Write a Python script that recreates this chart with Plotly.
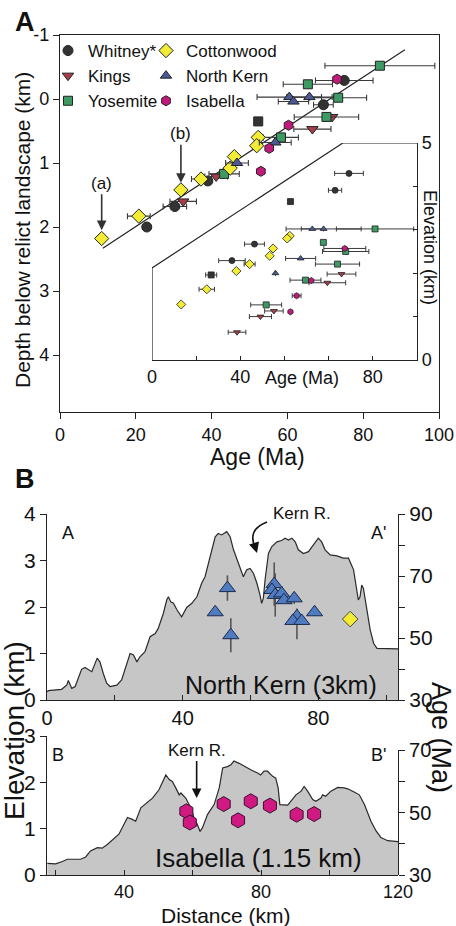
import plotly.graph_objects as go

W, H = 456, 926
FONT = "Liberation Sans, Arial, sans-serif"

def px(x):
    return x / W

def py(y):
    return 1 - y / H

# ---------------- Panel A (main): age (Ma), depth below relict landscape (km), age error (Ma)
whitney_age = [75.0, 69.5, 39.0, 30.3, 22.9]
whitney_depth = [-0.29, 0.09, 1.28, 1.68, 2.00]
whitney_err = [7.6, 2.6, 0, 3.1, 0]
whitney_sq_age = [52.3]
whitney_sq_depth = [0.35]
kings_age = [71.8, 66.6, 41.2, 32.5]
kings_depth = [0.28, 0.47, 1.21, 1.60]
kings_err = [0, 4.9, 3.0, 3.5]
yos_age = [84.4, 65.4, 73.4, 70.3, 58.3, 43.3]
yos_depth = [-0.52, -0.23, -0.02, 0.28, 0.60, 1.17]
yos_err = [14.5, 6.5, 7.5, 8.5, 4.6, 4.0]
cot_age = [52.3, 51.9, 46.0, 44.9, 37.2, 31.9, 20.8, 11.0]
cot_depth = [0.60, 0.73, 0.90, 1.08, 1.25, 1.42, 1.83, 2.18]
cot_err = [0, 0, 0, 0, 2.5, 0, 3.0, 0]
nk_age = [60.5, 65.8, 61.6, 56.8, 46.7]
nk_depth = [-0.03, -0.03, 0.04, 0.68, 1.00]
nk_err = [8.5, 6.0, 4.0, 4.2, 3.0]
isa_age = [73.1, 60.3, 55.2, 53.0]
isa_depth = [-0.31, 0.41, 0.77, 1.13]
reg_age = [11.3, 91.0]
reg_depth = [2.33, -0.77]

# ---------------- Panel A inset: age (Ma), elevation (km), age error (Ma)
in_whitney_age = [89.2, 82.9, 46.4, 36.2]
in_whitney_elev = [4.30, 3.91, 2.67, 2.29]
in_whitney_err = [6.5, 3.0, 4.5, 6.0]
in_whitney_sq_age = [62.7, 26.8]
in_whitney_sq_elev = [3.65, 1.96]
in_whitney_sq_err = [0, 2.5]
in_kings_age = [85.8, 79.4, 55.2, 49.1, 38.5]
in_kings_elev = [1.98, 1.78, 1.13, 1.00, 0.64]
in_kings_err = [6.5, 8.3, 4.2, 5.0, 4.0]
in_yos_age = [101.0, 77.6, 87.7, 84.0, 69.5, 51.7]
in_yos_elev = [3.02, 2.71, 2.50, 2.21, 1.84, 1.27]
in_yos_err = [17.5, 0, 10.5, 10.0, 7.0, 7.0]
in_cot_age = [62.4, 61.2, 54.8, 53.3, 44.2, 38.2, 24.8, 13.2]
in_cot_elev = [2.86, 2.80, 2.57, 2.40, 2.21, 2.05, 1.63, 1.28]
in_cot_err = [0, 0, 0, 0, 2.5, 0, 3.5, 0]
in_nk_age = [72.6, 77.7, 67.3, 55.9]
in_nk_elev = [3.02, 3.02, 2.34, 2.00]
in_nk_err = [5.0, 17.0, 6.8, 0]
in_isa_age = [87.3, 72.1, 65.5, 62.7]
in_isa_elev = [2.57, 1.83, 1.48, 1.11]
in_isa_err = [9.5, 0, 2.0, 0]
inset_tickvals = [0, 20, 40, 60, 80, 100, 120]
inset_ticktext = ["0", "", "40", "", "", "80", ""]

# ---------------- Panel B top: North Kern profile (distance km, elevation km) and samples (age Ma)
nk_prof_dist = [0.0, 0.4, 4.3, 5.8, 6.3, 7.3, 8.3, 10.2, 11.2, 13.2, 14.8, 15.6, 16.6, 17.6, 18.6,
                20.6, 22.0, 23.5, 24.5, 25.5, 26.5, 27.4, 28.9, 30.4, 31.9, 32.8, 34.3, 35.3, 35.8,
                36.5, 37.3, 38.3, 39.7, 41.2, 42.7, 44.2, 45.6, 46.6, 47.6, 48.6, 49.6, 50.5, 51.5,
                53.0, 54.0, 55.0, 56.4, 57.9, 58.9, 59.9, 60.9, 61.9, 62.8, 63.3, 63.8, 64.3, 65.3,
                66.3, 67.8, 69.2, 70.2, 71.2, 72.2, 73.2, 74.1, 75.6, 77.1, 78.6, 80.0, 81.0, 82.0,
                83.5, 85.5, 87.4, 88.9, 90.4, 91.4, 91.8, 92.3, 92.8, 93.3, 94.3, 95.3, 96.3, 97.3,
                103.5]
nk_prof_elev = [0.18, 0.20, 0.23, 0.32, 0.42, 0.25, 0.29, 0.66, 0.70, 0.61, 0.90, 0.82, 0.57, 0.36,
                0.29, 0.32, 0.43, 0.79, 1.00, 0.97, 0.82, 0.93, 1.04, 1.36, 1.43, 1.54, 1.86, 2.15,
                2.22, 2.11, 2.08, 1.94, 1.79, 1.99, 2.08, 2.22, 2.51, 2.65, 2.94, 3.23, 3.51, 3.58,
                3.55, 3.62, 3.51, 3.23, 2.94, 2.65, 2.80, 2.83, 2.72, 2.51, 2.26, 2.08, 2.19, 2.58,
                3.15, 3.30, 3.40, 3.43, 3.48, 3.44, 3.48, 3.40, 3.23, 3.15, 3.19, 3.33, 3.48, 3.40,
                3.23, 3.12, 3.10, 3.05, 3.05, 2.80, 2.29, 2.15, 2.22, 2.47, 2.40, 1.94, 1.51, 1.22,
                1.11, 1.10]
nkb_dist = [49.6, 53.2, 54.2, 67.0, 66.3, 67.3, 69.2, 69.9, 72.9, 73.7, 72.5, 75.1, 78.9]
nkb_age = [58.3, 66.1, 50.9, 67.4, 65.5, 63.9, 64.4, 62.2, 62.8, 57.0, 55.5, 55.5, 58.3]
nkb_err_plus = [0, 4.1, 5.5, 7.0, 0, 7.0, 2.3, 0, 1.8, 2.5, 0, 0, 1.0]
nkb_err_minus = [0, 4.1, 5.5, 7.0, 0, 7.0, 2.3, 0, 1.8, 7.4, 0, 0, 1.0]
cotb_dist = [89.4]
cotb_age = [56.1]

# ---------------- Panel B bottom: Isabella profile and samples
isa_prof_dist = [17.6, 20.0, 22.0, 23.4, 27.3, 28.8, 30.2, 32.2, 33.6, 35.1, 38.5, 40.0, 41.0, 42.4,
                 43.4, 44.9, 46.8, 48.3, 50.2, 51.7, 52.2, 53.2, 54.1, 55.1, 56.1, 56.6, 58.0, 59.5,
                 60.4, 61.4, 62.2, 62.9, 64.4, 66.3, 67.8, 68.8, 70.2, 71.2, 72.1, 73.6, 75.1, 77.0,
                 79.0, 79.9, 80.9, 81.9, 83.4, 84.3, 85.0, 85.5, 87.8, 88.7, 90.2, 91.7, 92.6, 93.6,
                 95.1, 96.0, 97.5, 98.0, 98.9, 100.4, 102.4, 104.3, 105.3, 107.2, 108.7, 110.2,
                 112.1, 113.6, 115.0, 117.0, 120.0]
isa_prof_elev = [0.25, 0.24, 0.29, 0.34, 0.34, 0.39, 0.52, 0.59, 0.58, 0.66, 0.88, 1.09, 1.24, 1.20,
                 1.16, 1.45, 1.56, 1.66, 1.84, 2.09, 2.16, 2.06, 2.02, 1.88, 1.73, 1.77, 1.66, 1.45,
                 1.24, 1.09, 0.94, 1.02, 1.31, 1.52, 1.88, 2.31, 2.34, 2.38, 2.46, 2.41, 2.34, 2.27,
                 2.20, 2.16, 2.24, 2.24, 2.13, 2.09, 1.88, 1.52, 1.51, 1.59, 1.73, 1.81, 1.91, 1.81,
                 1.63, 1.59, 1.66, 1.73, 1.70, 1.81, 1.89, 1.88, 1.86, 1.79, 1.73, 1.52, 1.16, 0.95,
                 0.81, 0.74, 0.72]
isab_dist = [58.2, 59.2, 69.1, 73.3, 77.0, 82.6, 90.4, 95.5]
isab_age = [50.4, 46.8, 52.7, 47.5, 53.6, 52.2, 49.3, 49.5]
isab_err = [0, 1.5, 0, 0, 0, 1.5, 0, 0]

# ---------------- styles
C_WHI = "#333333"
C_KIN = "#a53d4a"
C_YOS = "#3c9a62"
C_COT = "#f3ec35"
C_NK = "#4b5a96"
C_ISA = "#c2197c"
C_NKB = "#4f7cc0"
EDGE = "#222222"
ERRC = "#3a3a3a"

fig = go.Figure()


def main_trace(x, y, err, name, color, symbol, legend, show=True, size=10):
    return go.Scatter(
        x=x, y=y, mode="markers", name=name, legend=legend, showlegend=show,
        marker=dict(color=color, symbol=symbol, size=size, line=dict(color=EDGE, width=1)),
        error_x=dict(type="data", array=err, color=ERRC, thickness=1.1, width=3),
        xaxis="x", yaxis="y")


fig.add_trace(go.Scatter(x=reg_age, y=reg_depth, mode="lines", line=dict(color="#222", width=1.2),
                         showlegend=False, xaxis="x", yaxis="y"))
fig.add_trace(main_trace(whitney_age, whitney_depth, whitney_err, "Whitney*", C_WHI, "circle", "legend"))
fig.add_trace(main_trace(kings_age, kings_depth, kings_err, "Kings", C_KIN, "triangle-down", "legend"))
fig.add_trace(main_trace(yos_age, yos_depth, yos_err, "Yosemite", C_YOS, "square", "legend", size=9))
fig.add_trace(main_trace(cot_age, cot_depth, cot_err, "Cottonwood", C_COT, "diamond", "legend2", size=11))
fig.add_trace(main_trace(nk_age, nk_depth, nk_err, "North Kern", C_NK, "triangle-up", "legend2"))
fig.add_trace(main_trace(isa_age, isa_depth, [0] * len(isa_age), "Isabella", C_ISA, "hexagon", "legend2"))
fig.add_trace(main_trace(whitney_sq_age, whitney_sq_depth, [0], "Whitney sq", C_WHI, "square", "legend",
                         show=False, size=9))


def inset_trace(x, y, err, color, symbol, size=6):
    return go.Scatter(
        x=x, y=y, mode="markers", showlegend=False,
        marker=dict(color=color, symbol=symbol, size=size, line=dict(color=EDGE, width=0.8)),
        error_x=dict(type="data", array=err, color=ERRC, thickness=1, width=2.5),
        xaxis="x2", yaxis="y2")


fig.add_trace(inset_trace(in_whitney_age, in_whitney_elev, in_whitney_err, C_WHI, "circle"))
fig.add_trace(inset_trace(in_whitney_sq_age, in_whitney_sq_elev, in_whitney_sq_err, C_WHI, "square"))
fig.add_trace(inset_trace(in_kings_age, in_kings_elev, in_kings_err, C_KIN, "triangle-down"))
fig.add_trace(inset_trace(in_yos_age, in_yos_elev, in_yos_err, C_YOS, "square"))
fig.add_trace(inset_trace(in_cot_age, in_cot_elev, in_cot_err, C_COT, "diamond", size=7))
fig.add_trace(inset_trace(in_nk_age, in_nk_elev, in_nk_err, C_NK, "triangle-up"))
fig.add_trace(inset_trace(in_isa_age, in_isa_elev, in_isa_err, C_ISA, "hexagon"))

fig.add_trace(go.Scatter(x=nk_prof_dist, y=nk_prof_elev, mode="lines", fill="tozeroy",
                         fillcolor="#c6c6c6", line=dict(color="#2a2a2a", width=1.2),
                         showlegend=False, xaxis="x3", yaxis="y3"))
fig.add_trace(go.Scatter(x=nkb_dist, y=nkb_age, mode="markers", showlegend=False,
                         marker=dict(color=C_NKB, symbol="triangle-up", size=14,
                                     line=dict(color="#1c2a4a", width=1)),
                         error_y=dict(type="data", array=nkb_err_plus, arrayminus=nkb_err_minus,
                                      color="#555", thickness=1.6, width=0),
                         xaxis="x3", yaxis="y4"))
fig.add_trace(go.Scatter(x=cotb_dist, y=cotb_age, mode="markers", showlegend=False,
                         marker=dict(color=C_COT, symbol="diamond", size=12,
                                     line=dict(color="#444", width=1)),
                         xaxis="x3", yaxis="y4"))

fig.add_trace(go.Scatter(x=isa_prof_dist, y=isa_prof_elev, mode="lines", fill="tozeroy",
                         fillcolor="#c6c6c6", line=dict(color="#2a2a2a", width=1.2),
                         showlegend=False, xaxis="x4", yaxis="y5"))
fig.add_trace(go.Scatter(x=isab_dist, y=isab_age, mode="markers", showlegend=False,
                         marker=dict(color="#d01a82", symbol="hexagon", size=15,
                                     line=dict(color="#3a1030", width=1)),
                         error_y=dict(type="data", array=isab_err, color="#555", thickness=1.6, width=0),
                         xaxis="x4", yaxis="y6"))

AX = dict(showgrid=False, zeroline=False, showline=True, linecolor="#222", linewidth=1.2,
          ticks="outside", tickcolor="#222", ticklen=6, tickwidth=1.2, automargin=False)

layout = dict(
    width=W, height=H, margin=dict(l=0, r=0, t=0, b=0, autoexpand=False),
    paper_bgcolor="white", plot_bgcolor="rgba(0,0,0,0)",
    font=dict(family=FONT, color="#111"),
    xaxis=dict(AX, domain=[px(60), px(439)], range=[0, 100], anchor="y", mirror=True,
               tickvals=[0, 20, 40, 60, 80, 100], tickfont=dict(size=18)),
    yaxis=dict(AX, domain=[py(412), py(35)], range=[4.89, -1], anchor="x", mirror=True,
               tickvals=[-1, 0, 1, 2, 3, 4], ticktext=["-1", "0", "1", "2", "3", "4"],
               tickfont=dict(size=18)),
    xaxis2=dict(AX, domain=[px(152), px(417)], range=[0, 120], anchor="y2", ticks="inside", ticklen=4,
                tickvals=inset_tickvals, ticktext=inset_ticktext, tickfont=dict(size=18)),
    yaxis2=dict(AX, domain=[py(360), py(143)], range=[0, 5], anchor="x2", side="right",
                ticks="inside", ticklen=4, tickvals=[0, 1, 2, 3, 4, 5],
                ticktext=["0", "", "", "", "", "5"], tickfont=dict(size=18)),
    xaxis3=dict(AX, domain=[px(47), px(398)], range=[0, 103.5], anchor="y3", ticks="inside",
                ticklen=5, tickvals=[0, 20, 40, 60, 80, 100], ticktext=["0", "", "40", "", "80", ""],
                tickfont=dict(size=20)),
    yaxis3=dict(AX, domain=[py(700), py(514)], range=[0, 4], anchor="x3",
                tickvals=[0, 1, 2, 3, 4], tickfont=dict(size=21)),
    yaxis4=dict(AX, range=[30, 90], overlaying="y3", anchor="x3", side="right",
                tickvals=[30, 40, 50, 60, 70, 80, 90], ticktext=["30", "", "50", "", "70", "", "90"],
                tickfont=dict(size=21)),
    xaxis4=dict(AX, domain=[px(47), px(398)], range=[17.5, 120], anchor="y5", ticks="inside",
                ticklen=5, tickvals=[20, 40, 60, 80, 100, 120], ticktext=["", "40", "", "80", "", "120"],
                tickfont=dict(size=18)),
    yaxis5=dict(AX, domain=[py(875), py(736)], range=[0, 3], anchor="x4",
                tickvals=[0, 1, 2, 3], tickfont=dict(size=21)),
    yaxis6=dict(AX, domain=[py(875), py(750)], range=[30, 70], anchor="x4", side="right",
                tickvals=[30, 40, 50, 60, 70], ticktext=["30", "", "50", "", "70"],
                tickfont=dict(size=20)),
    legend=dict(x=px(48), y=py(33), xanchor="left", yanchor="top", font=dict(size=17),
                bgcolor="rgba(0,0,0,0)", tracegroupgap=0, itemwidth=30),
    legend2=dict(x=px(146), y=py(33), xanchor="left", yanchor="top", font=dict(size=17),
                 bgcolor="rgba(0,0,0,0)", tracegroupgap=0, itemwidth=30),
)
fig.update_layout(**layout)

fig.add_shape(type="path", xref="x2", yref="y2", path="M 0,0 L 0,2.12 L 86.4,5 L 120,5",
              line=dict(color="#222", width=1.2))
fig.add_shape(type="path", xref="paper", yref="paper",
              path=f"M {px(267)},{py(522)} Q {px(246)},{py(530)} {px(256)},{py(549)}",
              line=dict(color="#111", width=1.6))

ann = []


def text(x, y, s, size, **kw):
    d = dict(x=px(x), y=py(y), xref="paper", yref="paper", text=s, showarrow=False,
             xanchor="center", yanchor="middle",
             font=dict(size=size, family=FONT, color="#111"))
    d.update(kw)
    ann.append(d)


text(25, 22, "<b>A</b>", 27)
text(25, 479, "<b>B</b>", 27)
text(22, 230, "Depth below relict landscape (km)", 21, textangle=-90)
text(257, 457, "Age (Ma)", 23)
text(302, 378, "Age (Ma)", 18)
text(430, 247, "Elevation (km)", 18, textangle=90)
text(14, 731, "Elevation (km)", 28, textangle=-90)
text(441, 737, "Age (Ma)", 27, textangle=90)
text(226, 915, "Distance (km)", 21)
text(68, 533, "A", 18)
text(378, 533, "A'", 18)
text(302, 513, "Kern R.", 17)
text(58, 755, "B", 18)
text(378, 755, "B'", 18)
text(281, 685, "North Kern (3km)", 25)
text(258, 858, "Isabella (1.15 km)", 26)

ann.append(dict(x=px(257), y=py(553), xref="paper", yref="paper", text="", showarrow=True,
                ax=-3, ay=-10, arrowhead=2, arrowsize=1.3, arrowwidth=1.6, arrowcolor="#111"))
ann.append(dict(x=cot_age[7], y=cot_depth[7] - 0.13, xref="x", yref="y", text="(a)", showarrow=True,
                ax=0, ay=-47, arrowhead=2, arrowsize=1.2, arrowwidth=1.6, arrowcolor="#333",
                font=dict(size=17, family=FONT, color="#111")))
ann.append(dict(x=cot_age[5], y=cot_depth[5] - 0.11, xref="x", yref="y", text="(b)", showarrow=True,
                ax=0, ay=-49, arrowhead=2, arrowsize=1.2, arrowwidth=1.6, arrowcolor="#333",
                font=dict(size=17, family=FONT, color="#111")))
ann.append(dict(x=61.2, y=1.66, xref="x4", yref="y5", text="Kern R.", showarrow=True,
                ax=0, ay=-48, arrowhead=2, arrowsize=1.2, arrowwidth=1.6, arrowcolor="#111",
                font=dict(size=17, family=FONT, color="#111")))

fig.update_layout(annotations=ann)
fig.write_html("out.html", config={"displayModeBar": False},
               post_script="document.body.style.margin='0';document.body.style.overflow='hidden';")
